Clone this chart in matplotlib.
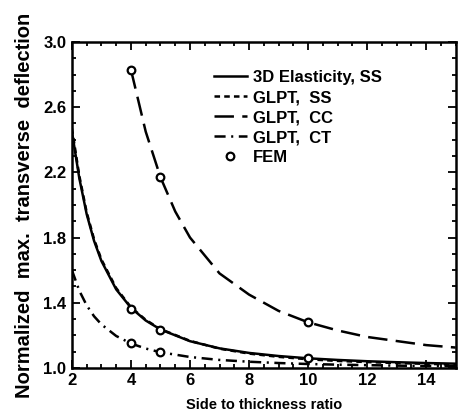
import matplotlib
matplotlib.use("Agg")
import matplotlib.pyplot as plt
from matplotlib.ticker import MultipleLocator, FixedLocator, FormatStrFormatter

plt.rcParams['font.family'] = ['Liberation Sans', 'DejaVu Sans']
plt.rcParams['font.weight'] = 'bold'
plt.rcParams['lines.scale_dashes'] = False

# values
ratio = [2, 2.25, 2.5, 2.75, 3, 3.5, 4, 4.5, 5, 6, 7, 8, 9, 10, 11, 12, 13, 14, 15]
elast_ss = [2.45, 2.165, 1.944, 1.780, 1.656, 1.482, 1.369, 1.291, 1.236, 1.164, 1.120,
            1.092, 1.073, 1.059, 1.049, 1.041, 1.035, 1.030, 1.026]
glpt_ss = [2.47, 2.18, 1.955, 1.79, 1.665, 1.49, 1.372, 1.295, 1.238, 1.166, 1.118,
           1.088, 1.068, 1.053, 1.043, 1.036, 1.030, 1.025, 1.021]
glpt_ct = [1.60, 1.474, 1.384, 1.317, 1.267, 1.196, 1.150, 1.119, 1.096, 1.067, 1.049,
           1.038, 1.030, 1.024, 1.020, 1.017, 1.014, 1.012, 1.011]

ratio_cc = [4, 4.5, 5, 5.5, 6, 7, 8, 9, 10, 11, 12, 13, 14, 15]
glpt_cc = [2.83, 2.45, 2.17, 1.96, 1.80, 1.58, 1.45, 1.35, 1.28, 1.23, 1.19, 1.165, 1.14, 1.125]

fem_x = [4, 5, 10, 4, 5, 10, 4, 5]
fem_y = [2.83, 2.17, 1.28, 1.36, 1.23, 1.06, 1.15, 1.10]

y_ticks = [1.0, 1.4, 1.8, 2.2, 2.6, 3.0]

fig = plt.figure(figsize=(4.58, 4.2), dpi=100)
ax = fig.add_axes([0.157, 0.124, 0.838, 0.776])

lw = 1.8
ax.plot(ratio, elast_ss, color='black', lw=lw, label='3D Elasticity, SS')
ax.plot(ratio, glpt_ss, color='black', lw=lw, dashes=(4, 3), label='GLPT,  SS')
ax.plot(ratio_cc, glpt_cc, color='black', lw=lw, dashes=(14, 6), label='GLPT,  CC')
ax.plot(ratio, glpt_ct, color='black', lw=lw, dashes=(8, 4, 1.5, 4), label='GLPT,  CT')
ax.plot(fem_x, fem_y, linestyle='none', marker='o', markersize=5.5,
        markerfacecolor='white', markeredgecolor='black', markeredgewidth=1.6, label='FEM')

ax.set_xlim(2, 15)
ax.set_ylim(1.0, 3.0)
ax.xaxis.set_major_locator(FixedLocator([2, 4, 6, 8, 10, 12, 14]))
ax.xaxis.set_minor_locator(MultipleLocator(0.5))
ax.yaxis.set_major_locator(FixedLocator(y_ticks))
ax.yaxis.set_minor_locator(MultipleLocator(0.1))
ax.yaxis.set_major_formatter(FormatStrFormatter('%.1f'))
ax.tick_params(which='both', direction='in', top=True, right=True, width=1.3, labelsize=12)
ax.tick_params(which='major', length=6, pad=4)
ax.tick_params(which='minor', length=3)
for s in ax.spines.values():
    s.set_linewidth(1.8)

ax.set_xlabel('Side to thickness ratio', fontsize=10.5, fontweight='bold', labelpad=7)
ax.set_ylabel('Normalized  max.  transverse  deflection', fontsize=14.5, fontweight='bold',
              labelpad=7)

leg = ax.legend(loc='upper left', bbox_to_anchor=(0.33, 0.96), frameon=False,
                fontsize=12, handlelength=2.0, handletextpad=0.35, labelspacing=0.3)

fig.savefig('out.png', dpi=100)
